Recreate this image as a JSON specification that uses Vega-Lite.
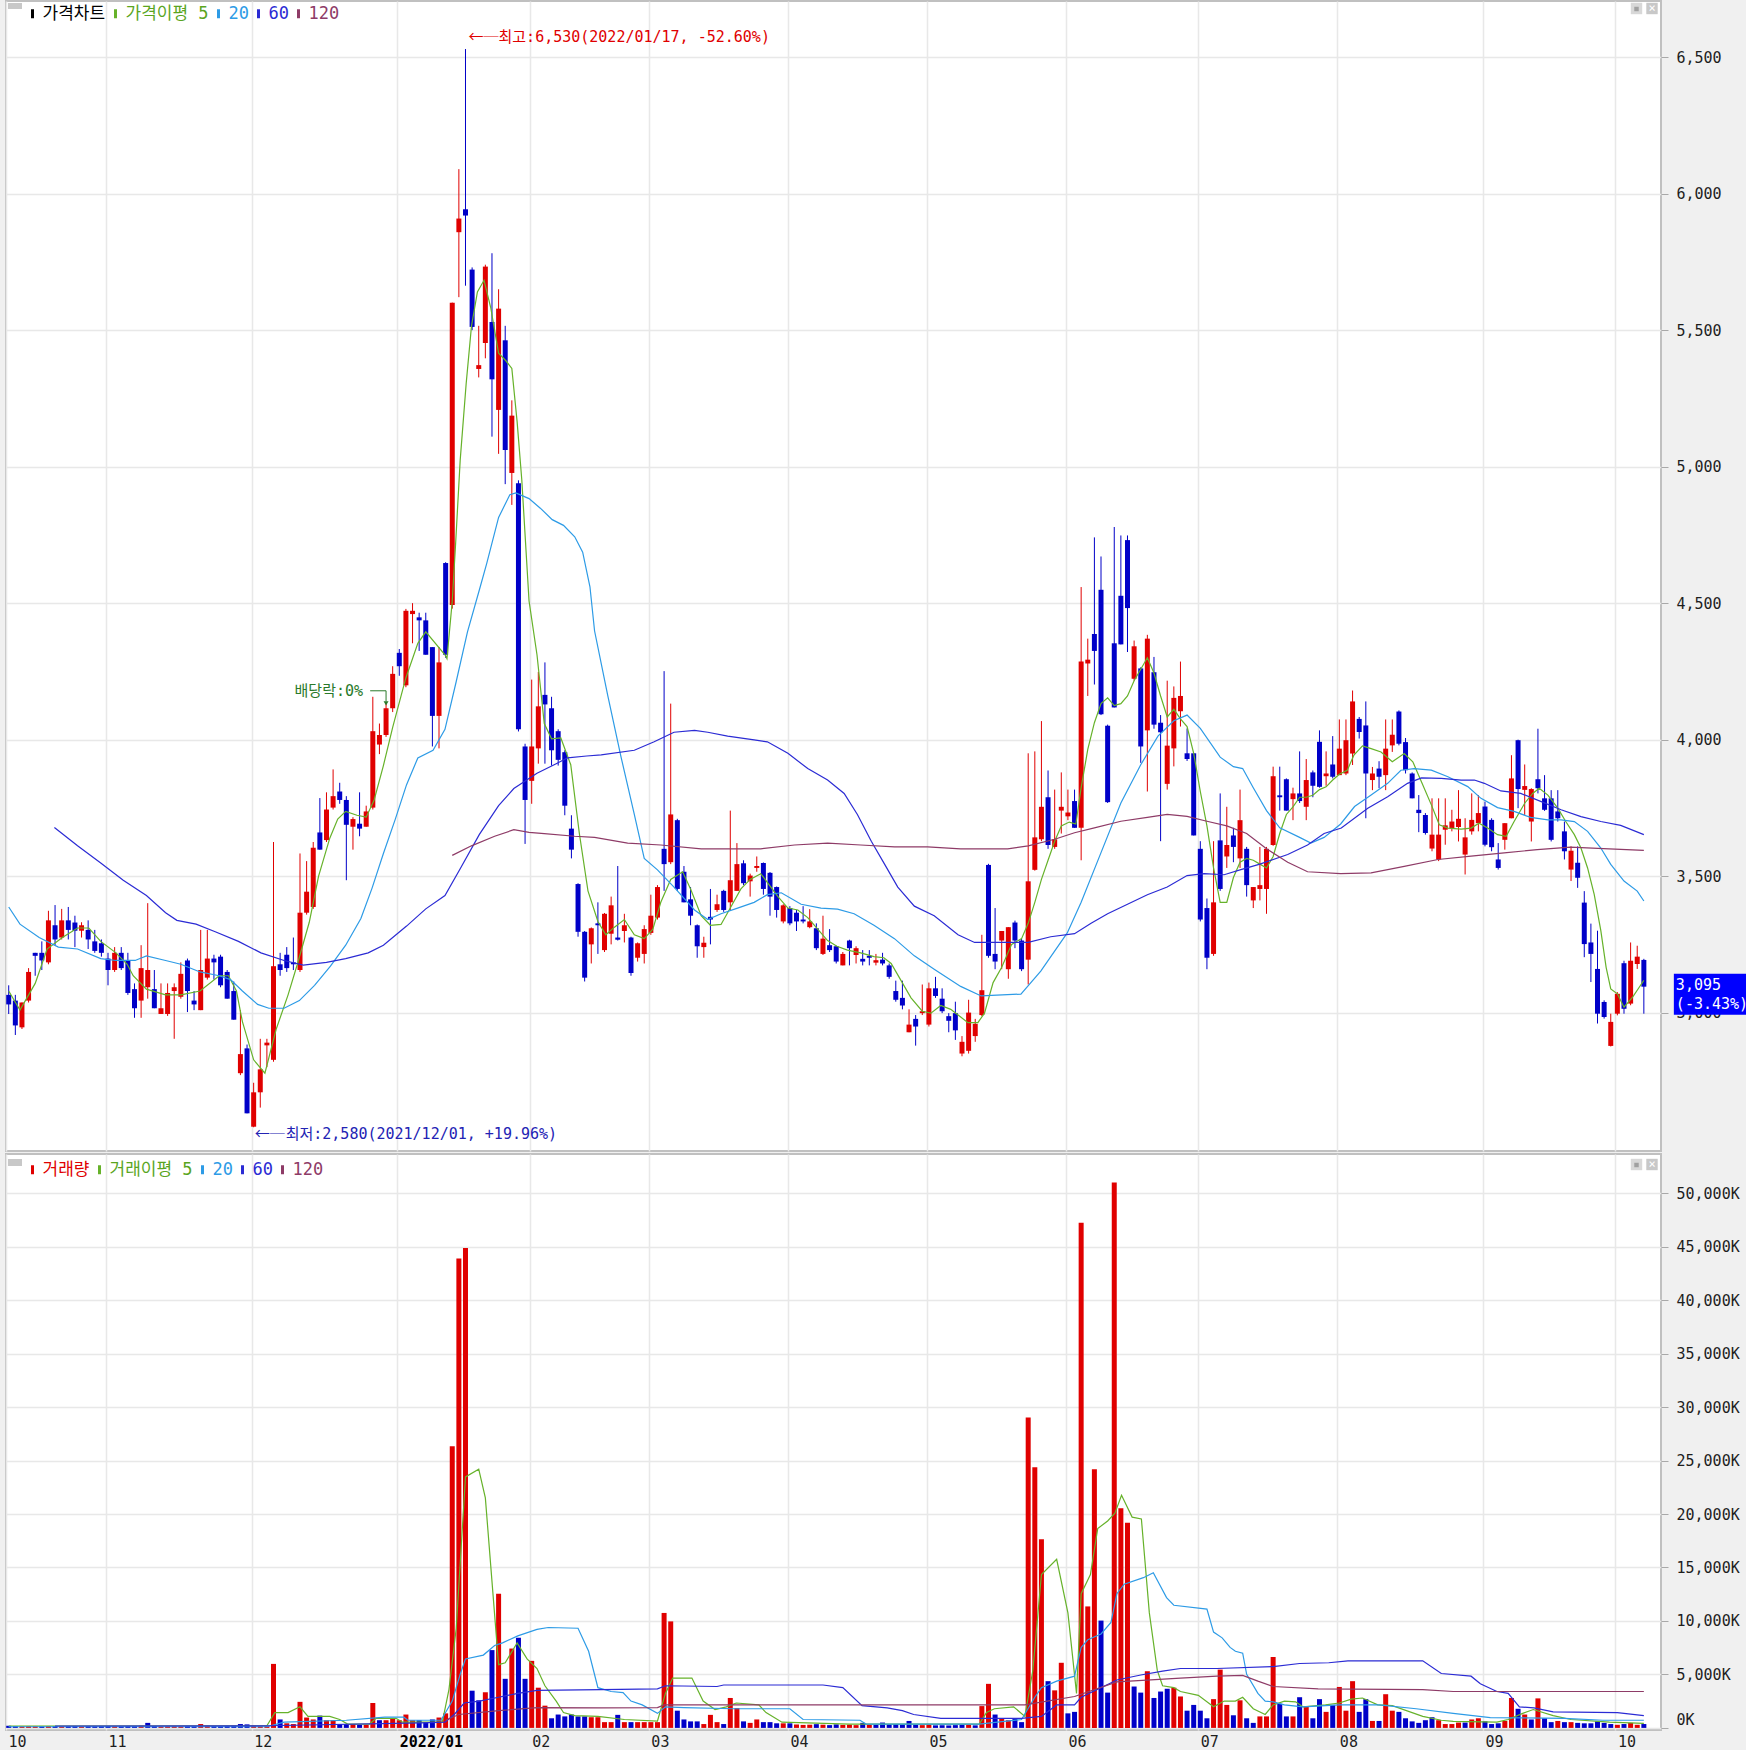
{
"$schema": "https://vega.github.io/schema/vega-lite/v6.json",
"background": "#f0f0f0",
"padding": {"left": 5, "top": 0, "right": 0, "bottom": 0},
"spacing": 1,
"config": {
  "view": {"fill": "white", "stroke": "#c0c0c0", "strokeWidth": 2},
  "axis": {"gridColor": "#e8e8e8", "gridWidth": 1.5, "labelFont": "DejaVu Sans Mono", "labelFontSize": 15, "labelColor": "#1e1e1e", "tickColor": "#a8a8a8", "domain": false, "title": null},
  "font": "DejaVu Sans Mono"
},
"resolve": {"scale": {"color": "independent"}, "legend": {"color": "independent"}},
"datasets": {
"c": [
{"i":-15,"o":3065,"h":3100,"l":2995,"c":3030,"v":200,"d":"d"},
{"i":-14,"o":3044,"h":3065,"l":2918,"c":2953,"v":180,"d":"d"},
{"i":-13,"o":2946,"h":3037,"l":2940,"c":3037,"v":150,"d":"u"},
{"i":-12,"o":3044,"h":3163,"l":3037,"c":3149,"v":170,"d":"u"},
{"i":-11,"o":3219,"h":3219,"l":3135,"c":3208,"v":160,"d":"u"},
{"i":-10,"o":3219,"h":3261,"l":3156,"c":3191,"v":150,"d":"d"},
{"i":-9,"o":3184,"h":3373,"l":3177,"c":3338,"v":180,"d":"u"},
{"i":-8,"o":3320,"h":3394,"l":3247,"c":3268,"v":170,"d":"d"},
{"i":-7,"o":3275,"h":3380,"l":3268,"c":3338,"v":160,"d":"u"},
{"i":-6,"o":3338,"h":3387,"l":3268,"c":3303,"v":150,"d":"d"},
{"i":-5,"o":3330,"h":3355,"l":3240,"c":3300,"v":170,"d":"d"},
{"i":-4,"o":3300,"h":3331,"l":3275,"c":3320,"v":150,"d":"u"},
{"i":-3,"o":3303,"h":3338,"l":3233,"c":3268,"v":160,"d":"d"},
{"i":-2,"o":3261,"h":3303,"l":3219,"c":3226,"v":150,"d":"d"},
{"i":-1,"o":3254,"h":3268,"l":3205,"c":3219,"v":170,"d":"d"},
{"i":0,"o":3198,"h":3219,"l":3100,"c":3156,"v":180,"d":"d"},
{"i":1,"o":3156,"h":3240,"l":3149,"c":3219,"v":160,"d":"u"},
{"i":2,"o":3219,"h":3240,"l":3156,"c":3163,"v":150,"d":"d"},
{"i":3,"o":3191,"h":3219,"l":3065,"c":3072,"v":170,"d":"d"},
{"i":4,"o":3086,"h":3107,"l":2981,"c":3016,"v":160,"d":"d"},
{"i":5,"o":3044,"h":3247,"l":2981,"c":3163,"v":200,"d":"u"},
{"i":6,"o":3093,"h":3401,"l":3051,"c":3156,"v":470,"d":"d"},
{"i":7,"o":3086,"h":3156,"l":3016,"c":3016,"v":180,"d":"d"},
{"i":8,"o":2995,"h":3107,"l":2995,"c":3016,"v":150,"d":"u"},
{"i":9,"o":2995,"h":3107,"l":2988,"c":3072,"v":160,"d":"u"},
{"i":10,"o":3079,"h":3107,"l":2904,"c":3093,"v":170,"d":"u"},
{"i":11,"o":3058,"h":3184,"l":3051,"c":3142,"v":160,"d":"u"},
{"i":12,"o":3191,"h":3198,"l":3002,"c":3079,"v":170,"d":"d"},
{"i":13,"o":3044,"h":3079,"l":3009,"c":3030,"v":150,"d":"d"},
{"i":14,"o":3009,"h":3303,"l":3009,"c":3156,"v":360,"d":"u"},
{"i":15,"o":3128,"h":3303,"l":3121,"c":3198,"v":200,"d":"u"},
{"i":16,"o":3198,"h":3212,"l":3121,"c":3184,"v":170,"d":"d"},
{"i":17,"o":3205,"h":3212,"l":3093,"c":3100,"v":160,"d":"d"},
{"i":18,"o":3149,"h":3156,"l":3051,"c":3051,"v":180,"d":"d"},
{"i":19,"o":3079,"h":3114,"l":2974,"c":2974,"v":200,"d":"d"},
{"i":20,"o":2778,"h":3009,"l":2771,"c":2848,"v":360,"d":"d"},
{"i":21,"o":2869,"h":2883,"l":2631,"c":2631,"v":330,"d":"d"},
{"i":22,"o":2582,"h":2743,"l":2580,"c":2708,"v":200,"d":"u"},
{"i":23,"o":2708,"h":2904,"l":2652,"c":2792,"v":180,"d":"u"},
{"i":24,"o":2880,"h":2904,"l":2800,"c":2890,"v":180,"d":"u"},
{"i":25,"o":2827,"h":3625,"l":2820,"c":3170,"v":5985,"d":"u"},
{"i":26,"o":3177,"h":3219,"l":3135,"c":3156,"v":790,"d":"d"},
{"i":27,"o":3212,"h":3240,"l":3149,"c":3163,"v":430,"d":"u"},
{"i":28,"o":3184,"h":3275,"l":3156,"c":3177,"v":360,"d":"u"},
{"i":29,"o":3156,"h":3583,"l":3149,"c":3366,"v":2437,"d":"u"},
{"i":30,"o":3366,"h":3555,"l":3359,"c":3443,"v":970,"d":"u"},
{"i":31,"o":3387,"h":3625,"l":3380,"c":3604,"v":790,"d":"u"},
{"i":32,"o":3660,"h":3786,"l":3597,"c":3597,"v":1150,"d":"d"},
{"i":33,"o":3632,"h":3807,"l":3625,"c":3744,"v":720,"d":"u"},
{"i":34,"o":3751,"h":3891,"l":3744,"c":3793,"v":720,"d":"u"},
{"i":35,"o":3810,"h":3842,"l":3765,"c":3779,"v":360,"d":"d"},
{"i":36,"o":3779,"h":3793,"l":3485,"c":3688,"v":360,"d":"d"},
{"i":37,"o":3681,"h":3716,"l":3597,"c":3709,"v":360,"d":"u"},
{"i":38,"o":3692,"h":3807,"l":3646,"c":3674,"v":290,"d":"d"},
{"i":39,"o":3681,"h":3758,"l":3681,"c":3737,"v":290,"d":"u"},
{"i":40,"o":3751,"h":4157,"l":3744,"c":4031,"v":2330,"d":"u"},
{"i":41,"o":3982,"h":4059,"l":3947,"c":4017,"v":720,"d":"d"},
{"i":42,"o":4017,"h":4136,"l":4010,"c":4115,"v":720,"d":"u"},
{"i":43,"o":4115,"h":4269,"l":4101,"c":4241,"v":900,"d":"u"},
{"i":44,"o":4318,"h":4332,"l":4234,"c":4269,"v":720,"d":"u"},
{"i":45,"o":4199,"h":4479,"l":4192,"c":4472,"v":1250,"d":"u"},
{"i":46,"o":4460,"h":4500,"l":4353,"c":4472,"v":720,"d":"u"},
{"i":47,"o":4448,"h":4465,"l":4325,"c":4437,"v":720,"d":"d"},
{"i":48,"o":4437,"h":4465,"l":4311,"c":4311,"v":540,"d":"d"},
{"i":49,"o":4339,"h":4339,"l":3975,"c":4087,"v":790,"d":"d"},
{"i":50,"o":4087,"h":4339,"l":3968,"c":4283,"v":970,"d":"u"},
{"i":51,"o":4647,"h":4650,"l":4300,"c":4311,"v":1360,"d":"u"},
{"i":52,"o":4493,"h":5601,"l":4480,"c":5601,"v":26340,"d":"u"},
{"i":53,"o":5859,"h":6090,"l":5621,"c":5909,"v":43900,"d":"u"},
{"i":54,"o":5943,"h":6530,"l":5663,"c":5920,"v":44870,"d":"u"},
{"i":55,"o":5722,"h":5730,"l":5500,"c":5512,"v":3480,"d":"d"},
{"i":56,"o":5358,"h":5516,"l":5327,"c":5372,"v":2580,"d":"d"},
{"i":57,"o":5453,"h":5740,"l":5397,"c":5733,"v":3333,"d":"u"},
{"i":58,"o":5530,"h":5782,"l":5110,"c":5320,"v":7275,"d":"d"},
{"i":59,"o":5208,"h":5650,"l":5047,"c":5579,"v":12540,"d":"u"},
{"i":60,"o":5463,"h":5516,"l":4936,"c":5061,"v":4590,"d":"d"},
{"i":61,"o":4977,"h":5243,"l":4860,"c":5187,"v":7420,"d":"u"},
{"i":62,"o":4939,"h":4950,"l":4030,"c":4038,"v":8420,"d":"d"},
{"i":63,"o":3975,"h":3985,"l":3618,"c":3779,"v":4590,"d":"d"},
{"i":64,"o":3849,"h":4220,"l":3765,"c":3975,"v":6270,"d":"u"},
{"i":65,"o":3968,"h":4248,"l":3912,"c":4122,"v":3760,"d":"u"},
{"i":66,"o":4164,"h":4283,"l":3912,"c":4129,"v":2080,"d":"u"},
{"i":67,"o":4115,"h":4157,"l":3905,"c":3961,"v":900,"d":"d"},
{"i":68,"o":4031,"h":4038,"l":3905,"c":3926,"v":1250,"d":"d"},
{"i":69,"o":3954,"h":3961,"l":3723,"c":3758,"v":1075,"d":"d"},
{"i":70,"o":3674,"h":3723,"l":3565,"c":3597,"v":1250,"d":"d"},
{"i":71,"o":3471,"h":3474,"l":3278,"c":3296,"v":1075,"d":"d"},
{"i":72,"o":3296,"h":3299,"l":3114,"c":3128,"v":1075,"d":"d"},
{"i":73,"o":3250,"h":3312,"l":3180,"c":3309,"v":1000,"d":"u"},
{"i":74,"o":3327,"h":3404,"l":3215,"c":3320,"v":1000,"d":"u"},
{"i":75,"o":3229,"h":3365,"l":3222,"c":3362,"v":540,"d":"u"},
{"i":76,"o":3289,"h":3425,"l":3250,"c":3393,"v":540,"d":"u"},
{"i":77,"o":3275,"h":3537,"l":3264,"c":3267,"v":1220,"d":"d"},
{"i":78,"o":3299,"h":3362,"l":3257,"c":3320,"v":540,"d":"u"},
{"i":79,"o":3275,"h":3278,"l":3135,"c":3145,"v":540,"d":"d"},
{"i":80,"o":3201,"h":3257,"l":3187,"c":3254,"v":540,"d":"u"},
{"i":81,"o":3215,"h":3320,"l":3180,"c":3306,"v":540,"d":"u"},
{"i":82,"o":3292,"h":3432,"l":3285,"c":3355,"v":540,"d":"u"},
{"i":83,"o":3348,"h":3467,"l":3341,"c":3460,"v":540,"d":"u"},
{"i":84,"o":3600,"h":4251,"l":3446,"c":3544,"v":10750,"d":"u"},
{"i":85,"o":3551,"h":4132,"l":3544,"c":3726,"v":9960,"d":"u"},
{"i":86,"o":3705,"h":3710,"l":3446,"c":3453,"v":1610,"d":"d"},
{"i":87,"o":3516,"h":3537,"l":3404,"c":3404,"v":790,"d":"d"},
{"i":88,"o":3415,"h":3460,"l":3320,"c":3355,"v":610,"d":"d"},
{"i":89,"o":3320,"h":3323,"l":3201,"c":3243,"v":610,"d":"d"},
{"i":90,"o":3240,"h":3278,"l":3201,"c":3256,"v":360,"d":"u"},
{"i":91,"o":3351,"h":3453,"l":3250,"c":3341,"v":1220,"d":"u"},
{"i":92,"o":3376,"h":3432,"l":3369,"c":3397,"v":540,"d":"u"},
{"i":93,"o":3446,"h":3450,"l":3369,"c":3376,"v":360,"d":"d"},
{"i":94,"o":3404,"h":3740,"l":3376,"c":3485,"v":2800,"d":"u"},
{"i":95,"o":3446,"h":3621,"l":3446,"c":3544,"v":1860,"d":"u"},
{"i":96,"o":3547,"h":3558,"l":3467,"c":3474,"v":610,"d":"d"},
{"i":97,"o":3481,"h":3509,"l":3425,"c":3502,"v":470,"d":"u"},
{"i":98,"o":3530,"h":3572,"l":3516,"c":3537,"v":790,"d":"u"},
{"i":99,"o":3548,"h":3550,"l":3432,"c":3453,"v":540,"d":"d"},
{"i":100,"o":3512,"h":3515,"l":3355,"c":3425,"v":540,"d":"d"},
{"i":101,"o":3460,"h":3462,"l":3348,"c":3376,"v":430,"d":"d"},
{"i":102,"o":3334,"h":3397,"l":3327,"c":3393,"v":430,"d":"u"},
{"i":103,"o":3383,"h":3390,"l":3320,"c":3327,"v":430,"d":"d"},
{"i":104,"o":3366,"h":3376,"l":3299,"c":3334,"v":320,"d":"u"},
{"i":105,"o":3341,"h":3390,"l":3327,"c":3334,"v":280,"d":"u"},
{"i":106,"o":3313,"h":3379,"l":3309,"c":3334,"v":300,"d":"u"},
{"i":107,"o":3309,"h":3327,"l":3229,"c":3236,"v":350,"d":"d"},
{"i":108,"o":3215,"h":3355,"l":3211,"c":3271,"v":300,"d":"u"},
{"i":109,"o":3247,"h":3306,"l":3222,"c":3229,"v":260,"d":"d"},
{"i":110,"o":3243,"h":3245,"l":3180,"c":3187,"v":330,"d":"d"},
{"i":111,"o":3173,"h":3222,"l":3173,"c":3215,"v":280,"d":"u"},
{"i":112,"o":3264,"h":3267,"l":3173,"c":3236,"v":300,"d":"u"},
{"i":113,"o":3211,"h":3243,"l":3180,"c":3236,"v":260,"d":"u"},
{"i":114,"o":3197,"h":3229,"l":3173,"c":3187,"v":470,"d":"d"},
{"i":115,"o":3208,"h":3229,"l":3173,"c":3201,"v":290,"d":"u"},
{"i":116,"o":3183,"h":3215,"l":3173,"c":3192,"v":270,"d":"d"},
{"i":117,"o":3194,"h":3219,"l":3173,"c":3180,"v":500,"d":"d"},
{"i":118,"o":3173,"h":3180,"l":3124,"c":3131,"v":330,"d":"d"},
{"i":119,"o":3079,"h":3117,"l":3040,"c":3047,"v":360,"d":"d"},
{"i":120,"o":3054,"h":3117,"l":3012,"c":3026,"v":300,"d":"d"},
{"i":121,"o":2928,"h":3012,"l":2928,"c":2956,"v":650,"d":"d"},
{"i":122,"o":2977,"h":2991,"l":2879,"c":2949,"v":280,"d":"d"},
{"i":123,"o":2998,"h":3103,"l":2991,"c":3005,"v":260,"d":"u"},
{"i":124,"o":2956,"h":3110,"l":2949,"c":3089,"v":300,"d":"u"},
{"i":125,"o":3089,"h":3131,"l":3054,"c":3061,"v":240,"d":"d"},
{"i":126,"o":3051,"h":3089,"l":2998,"c":3005,"v":250,"d":"d"},
{"i":127,"o":2987,"h":2998,"l":2928,"c":2970,"v":230,"d":"d"},
{"i":128,"o":2998,"h":3040,"l":2900,"c":2935,"v":260,"d":"d"},
{"i":129,"o":2850,"h":2914,"l":2840,"c":2893,"v":280,"d":"d"},
{"i":130,"o":2860,"h":3047,"l":2850,"c":3000,"v":300,"d":"u"},
{"i":131,"o":2914,"h":2977,"l":2893,"c":2959,"v":240,"d":"d"},
{"i":132,"o":2991,"h":3285,"l":2987,"c":3082,"v":2040,"d":"u"},
{"i":133,"o":3541,"h":3545,"l":3201,"c":3208,"v":4120,"d":"u"},
{"i":134,"o":3215,"h":3383,"l":3159,"c":3187,"v":1250,"d":"d"},
{"i":135,"o":3264,"h":3299,"l":3159,"c":3299,"v":900,"d":"u"},
{"i":136,"o":3159,"h":3313,"l":3124,"c":3313,"v":720,"d":"u"},
{"i":137,"o":3330,"h":3337,"l":3236,"c":3264,"v":900,"d":"d"},
{"i":138,"o":3264,"h":3271,"l":3152,"c":3159,"v":540,"d":"d"},
{"i":139,"o":3194,"h":3950,"l":3103,"c":3481,"v":29030,"d":"u"},
{"i":140,"o":3523,"h":3957,"l":3520,"c":3642,"v":24370,"d":"u"},
{"i":141,"o":3635,"h":4068,"l":3628,"c":3754,"v":17630,"d":"u"},
{"i":142,"o":3789,"h":3887,"l":3600,"c":3614,"v":4370,"d":"d"},
{"i":143,"o":3607,"h":3817,"l":3600,"c":3635,"v":3510,"d":"u"},
{"i":144,"o":3740,"h":3880,"l":3656,"c":3754,"v":6090,"d":"u"},
{"i":145,"o":3719,"h":3817,"l":3705,"c":3733,"v":1360,"d":"d"},
{"i":146,"o":3775,"h":3817,"l":3677,"c":3677,"v":1500,"d":"d"},
{"i":147,"o":3677,"h":4559,"l":3558,"c":4286,"v":47240,"d":"u"},
{"i":148,"o":4279,"h":4370,"l":4160,"c":4293,"v":11360,"d":"u"},
{"i":149,"o":4387,"h":4741,"l":4202,"c":4325,"v":24190,"d":"u"},
{"i":150,"o":4549,"h":4671,"l":4090,"c":4093,"v":10035,"d":"d"},
{"i":151,"o":4051,"h":4055,"l":3768,"c":3771,"v":3300,"d":"d"},
{"i":152,"o":4353,"h":4779,"l":4118,"c":4118,"v":51000,"d":"u"},
{"i":153,"o":4527,"h":4748,"l":4349,"c":4349,"v":20540,"d":"u"},
{"i":154,"o":4731,"h":4748,"l":4321,"c":4482,"v":19175,"d":"u"},
{"i":155,"o":4223,"h":4363,"l":4216,"c":4342,"v":3870,"d":"d"},
{"i":156,"o":4261,"h":4265,"l":3915,"c":3975,"v":3300,"d":"d"},
{"i":157,"o":4034,"h":4384,"l":3810,"c":4370,"v":5300,"d":"u"},
{"i":158,"o":4247,"h":4303,"l":4040,"c":4055,"v":2800,"d":"d"},
{"i":159,"o":4062,"h":4090,"l":3628,"c":4027,"v":3400,"d":"d"},
{"i":160,"o":3838,"h":4216,"l":3817,"c":3978,"v":3660,"d":"d"},
{"i":161,"o":3968,"h":4195,"l":3902,"c":4153,"v":3760,"d":"u"},
{"i":162,"o":4104,"h":4286,"l":4048,"c":4160,"v":2940,"d":"u"},
{"i":163,"o":3950,"h":4041,"l":3922,"c":3929,"v":1610,"d":"d"},
{"i":164,"o":3950,"h":3950,"l":3649,"c":3649,"v":2150,"d":"d"},
{"i":165,"o":3600,"h":3628,"l":3334,"c":3341,"v":1610,"d":"d"},
{"i":166,"o":3383,"h":3418,"l":3159,"c":3201,"v":900,"d":"d"},
{"i":167,"o":3215,"h":3628,"l":3208,"c":3404,"v":2690,"d":"u"},
{"i":168,"o":3631,"h":3803,"l":3446,"c":3453,"v":5450,"d":"u"},
{"i":169,"o":3572,"h":3754,"l":3530,"c":3614,"v":2150,"d":"u"},
{"i":170,"o":3649,"h":3677,"l":3551,"c":3607,"v":1180,"d":"d"},
{"i":171,"o":3565,"h":3817,"l":3530,"c":3705,"v":2580,"d":"u"},
{"i":172,"o":3600,"h":3607,"l":3425,"c":3467,"v":900,"d":"d"},
{"i":173,"o":3411,"h":3460,"l":3383,"c":3460,"v":470,"d":"d"},
{"i":174,"o":3453,"h":3607,"l":3411,"c":3467,"v":1075,"d":"u"},
{"i":175,"o":3453,"h":3607,"l":3362,"c":3600,"v":1075,"d":"u"},
{"i":176,"o":3614,"h":3901,"l":3611,"c":3866,"v":6630,"d":"u"},
{"i":177,"o":3796,"h":3901,"l":3740,"c":3789,"v":2260,"d":"d"},
{"i":178,"o":3855,"h":3858,"l":3740,"c":3740,"v":1075,"d":"d"},
{"i":179,"o":3782,"h":3824,"l":3705,"c":3803,"v":1075,"d":"u"},
{"i":180,"o":3803,"h":3957,"l":3768,"c":3775,"v":2870,"d":"d"},
{"i":181,"o":3754,"h":3929,"l":3705,"c":3852,"v":1970,"d":"u"},
{"i":182,"o":3880,"h":3887,"l":3789,"c":3831,"v":900,"d":"d"},
{"i":183,"o":3992,"h":4034,"l":3824,"c":3827,"v":2690,"d":"d"},
{"i":184,"o":3866,"h":3957,"l":3831,"c":3876,"v":1500,"d":"u"},
{"i":185,"o":3909,"h":4013,"l":3858,"c":3864,"v":2150,"d":"d"},
{"i":186,"o":3870,"h":4074,"l":3870,"c":3967,"v":3830,"d":"u"},
{"i":187,"o":3876,"h":4074,"l":3870,"c":3998,"v":1610,"d":"u"},
{"i":188,"o":3949,"h":4180,"l":3907,"c":4140,"v":4370,"d":"u"},
{"i":189,"o":4076,"h":4083,"l":4004,"c":4028,"v":1500,"d":"d"},
{"i":190,"o":4052,"h":4140,"l":3712,"c":3876,"v":2690,"d":"d"},
{"i":191,"o":3852,"h":3900,"l":3815,"c":3876,"v":650,"d":"u"},
{"i":192,"o":3894,"h":3921,"l":3822,"c":3864,"v":650,"d":"d"},
{"i":193,"o":3870,"h":4074,"l":3815,"c":3967,"v":3150,"d":"u"},
{"i":194,"o":3979,"h":4074,"l":3955,"c":4018,"v":1610,"d":"u"},
{"i":195,"o":4103,"h":4107,"l":3979,"c":3985,"v":1500,"d":"d"},
{"i":196,"o":3991,"h":4006,"l":3876,"c":3888,"v":900,"d":"d"},
{"i":197,"o":3876,"h":3880,"l":3785,"c":3785,"v":610,"d":"d"},
{"i":198,"o":3743,"h":3797,"l":3661,"c":3731,"v":470,"d":"d"},
{"i":199,"o":3724,"h":3731,"l":3652,"c":3658,"v":720,"d":"d"},
{"i":200,"o":3601,"h":3785,"l":3591,"c":3652,"v":1000,"d":"d"},
{"i":201,"o":3561,"h":3785,"l":3555,"c":3652,"v":720,"d":"u"},
{"i":202,"o":3670,"h":3785,"l":3615,"c":3686,"v":360,"d":"u"},
{"i":203,"o":3676,"h":3743,"l":3664,"c":3700,"v":360,"d":"u"},
{"i":204,"o":3680,"h":3815,"l":3627,"c":3710,"v":500,"d":"u"},
{"i":205,"o":3579,"h":3712,"l":3506,"c":3642,"v":500,"d":"d"},
{"i":206,"o":3664,"h":3803,"l":3652,"c":3706,"v":790,"d":"u"},
{"i":207,"o":3694,"h":3797,"l":3664,"c":3731,"v":900,"d":"u"},
{"i":208,"o":3755,"h":3773,"l":3609,"c":3615,"v":610,"d":"d"},
{"i":209,"o":3706,"h":3712,"l":3591,"c":3606,"v":360,"d":"d"},
{"i":210,"o":3561,"h":3621,"l":3524,"c":3530,"v":430,"d":"d"},
{"i":211,"o":3633,"h":3694,"l":3597,"c":3694,"v":650,"d":"u"},
{"i":212,"o":3712,"h":3943,"l":3712,"c":3858,"v":2800,"d":"u"},
{"i":213,"o":3998,"h":4000,"l":3749,"c":3819,"v":1790,"d":"d"},
{"i":214,"o":3816,"h":3909,"l":3724,"c":3830,"v":1250,"d":"u"},
{"i":215,"o":3700,"h":3822,"l":3627,"c":3819,"v":790,"d":"d"},
{"i":216,"o":3855,"h":4040,"l":3803,"c":3822,"v":2760,"d":"u"},
{"i":217,"o":3785,"h":3870,"l":3739,"c":3743,"v":900,"d":"d"},
{"i":218,"o":3785,"h":3815,"l":3627,"c":3633,"v":540,"d":"d"},
{"i":219,"o":3737,"h":3815,"l":3700,"c":3712,"v":650,"d":"u"},
{"i":220,"o":3664,"h":3700,"l":3561,"c":3591,"v":540,"d":"d"},
{"i":221,"o":3524,"h":3609,"l":3482,"c":3593,"v":540,"d":"u"},
{"i":222,"o":3549,"h":3609,"l":3457,"c":3494,"v":470,"d":"d"},
{"i":223,"o":3403,"h":3445,"l":3203,"c":3251,"v":430,"d":"d"},
{"i":224,"o":3257,"h":3326,"l":3112,"c":3215,"v":430,"d":"d"},
{"i":225,"o":3160,"h":3300,"l":2960,"c":2996,"v":610,"d":"d"},
{"i":226,"o":3039,"h":3045,"l":2978,"c":2984,"v":470,"d":"d"},
{"i":227,"o":2878,"h":2996,"l":2876,"c":2966,"v":360,"d":"d"},
{"i":228,"o":2996,"h":3075,"l":2990,"c":3069,"v":290,"d":"u"},
{"i":229,"o":3181,"h":3190,"l":2996,"c":3014,"v":360,"d":"d"},
{"i":230,"o":3033,"h":3257,"l":3027,"c":3190,"v":470,"d":"u"},
{"i":231,"o":3178,"h":3245,"l":3160,"c":3205,"v":290,"d":"u"},
{"i":232,"o":3193,"h":3197,"l":2996,"c":3095,"v":360,"d":"d"}
],
"ma": [
{"s":"가격이평 5","i":-15,"v":3079},{"s":"가격이평 5","i":-13.3,"v":3009},{"s":"가격이평 5","i":-11,"v":3107},{"s":"가격이평 5","i":-9.2,"v":3233},{"s":"가격이평 5","i":-6.9,"v":3275},{"s":"가격이평 5","i":-4.6,"v":3310},{"s":"가격이평 5","i":-2.9,"v":3310},{"s":"가격이평 5","i":-1.1,"v":3261},{"s":"가격이평 5","i":1.2,"v":3219},{"s":"가격이평 5","i":2.9,"v":3177},{"s":"가격이평 5","i":3.8,"v":3135},{"s":"가격이평 5","i":5.8,"v":3086},{"s":"가격이평 5","i":8.7,"v":3065},{"s":"가격이평 5","i":11,"v":3065},{"s":"가격이평 5","i":13.9,"v":3079},{"s":"가격이평 5","i":16.8,"v":3135},{"s":"가격이평 5","i":18.2,"v":3135},{"s":"가격이평 5","i":19.4,"v":3079},{"s":"가격이평 5","i":20.3,"v":2967},{"s":"가격이평 5","i":22,"v":2827},{"s":"가격이평 5","i":23.7,"v":2778},{"s":"가격이평 5","i":25.4,"v":2939},{"s":"가격이평 5","i":27.2,"v":3065},{"s":"가격이평 5","i":28.6,"v":3177},{"s":"가격이평 5","i":30.4,"v":3331},{"s":"가격이평 5","i":31.8,"v":3499},{"s":"가격이평 5","i":33.5,"v":3639},{"s":"가격이평 5","i":34.7,"v":3709},{"s":"가격이평 5","i":35.9,"v":3737},{"s":"가격이평 5","i":37.6,"v":3723},{"s":"가격이평 5","i":39,"v":3716},{"s":"가격이평 5","i":40.2,"v":3779},{"s":"가격이평 5","i":41.6,"v":3905},{"s":"가격이평 5","i":43,"v":4045},{"s":"가격이평 5","i":45,"v":4227},{"s":"가격이평 5","i":46.8,"v":4353},{"s":"가격이평 5","i":48,"v":4395},{"s":"가격이평 5","i":50.9,"v":4311},{"s":"가격이평 5","i":51.2,"v":4297},{"s":"가격이평 5","i":52,"v":4508},{"s":"가격이평 5","i":52.5,"v":4715},{"s":"가격이평 5","i":53.2,"v":5024},{"s":"가격이평 5","i":54.1,"v":5304},{"s":"가격이평 5","i":54.9,"v":5514},{"s":"가격이평 5","i":55.8,"v":5640},{"s":"가격이평 5","i":56.8,"v":5683},{"s":"가격이평 5","i":57.8,"v":5584},{"s":"가격이평 5","i":59,"v":5416},{"s":"가격이평 5","i":60.1,"v":5388},{"s":"가격이평 5","i":61,"v":5360},{"s":"가격이평 5","i":61.8,"v":5164},{"s":"가격이평 5","i":62.5,"v":4953},{"s":"가격이평 5","i":63.6,"v":4508},{"s":"가격이평 5","i":64.8,"v":4311},{"s":"가격이평 5","i":65.9,"v":4059},{"s":"가격이평 5","i":67,"v":4003},{"s":"가격이평 5","i":68.4,"v":4006},{"s":"가격이평 5","i":69.9,"v":3908},{"s":"가격이평 5","i":71.2,"v":3656},{"s":"가격이평 5","i":72.5,"v":3446},{"s":"가격이평 5","i":74,"v":3334},{"s":"가격이평 5","i":75.2,"v":3285},{"s":"가격이평 5","i":76.5,"v":3313},{"s":"가격이평 5","i":78,"v":3341},{"s":"가격이평 5","i":79.5,"v":3285},{"s":"가격이평 5","i":81,"v":3271},{"s":"가격이평 5","i":82.3,"v":3306},{"s":"가격이평 5","i":83.5,"v":3404},{"s":"가격이평 5","i":85,"v":3488},{"s":"가격이평 5","i":86.8,"v":3516},{"s":"가격이평 5","i":88,"v":3453},{"s":"가격이평 5","i":89.6,"v":3355},{"s":"가격이평 5","i":91,"v":3320},{"s":"가격이평 5","i":92.6,"v":3323},{"s":"가격이평 5","i":94,"v":3383},{"s":"가격이평 5","i":95.6,"v":3453},{"s":"가격이평 5","i":97,"v":3488},{"s":"가격이평 5","i":98.6,"v":3509},{"s":"가격이평 5","i":99.9,"v":3467},{"s":"가격이평 5","i":101.2,"v":3425},{"s":"가격이평 5","i":102.7,"v":3383},{"s":"가격이평 5","i":104.2,"v":3376},{"s":"가격이평 5","i":105.7,"v":3348},{"s":"가격이평 5","i":107.2,"v":3306},{"s":"가격이평 5","i":108.7,"v":3264},{"s":"가격이평 5","i":110.1,"v":3243},{"s":"가격이평 5","i":111.7,"v":3229},{"s":"가격이평 5","i":113.7,"v":3219},{"s":"가격이평 5","i":115.7,"v":3205},{"s":"가격이평 5","i":117.2,"v":3201},{"s":"가격이평 5","i":118.3,"v":3180},{"s":"가격이평 5","i":119.8,"v":3117},{"s":"가격이평 5","i":121.3,"v":3054},{"s":"가격이평 5","i":123,"v":3005},{"s":"가격이평 5","i":124.3,"v":2998},{"s":"가격이평 5","i":125.8,"v":3026},{"s":"가격이평 5","i":127.3,"v":3012},{"s":"가격이평 5","i":128.8,"v":2984},{"s":"가격이평 5","i":129.9,"v":2963},{"s":"가격이평 5","i":131.4,"v":2963},{"s":"가격이평 5","i":132.4,"v":2998},{"s":"가격이평 5","i":133.7,"v":3110},{"s":"가격이평 5","i":135,"v":3166},{"s":"가격이평 5","i":136.5,"v":3250},{"s":"가격이평 5","i":138,"v":3271},{"s":"가격이평 5","i":139,"v":3327},{"s":"가격이평 5","i":140,"v":3404},{"s":"가격이평 5","i":141,"v":3488},{"s":"가격이평 5","i":142,"v":3558},{"s":"가격이평 5","i":143,"v":3628},{"s":"가격이평 5","i":144,"v":3684},{"s":"가격이평 5","i":145.2,"v":3698},{"s":"가격이평 5","i":146.2,"v":3691},{"s":"가격이평 5","i":147,"v":3824},{"s":"가격이평 5","i":148,"v":3964},{"s":"가격이평 5","i":149,"v":4062},{"s":"가격이평 5","i":150,"v":4132},{"s":"가격이평 5","i":151,"v":4153},{"s":"가격이평 5","i":152,"v":4125},{"s":"가격이평 5","i":153,"v":4132},{"s":"가격이평 5","i":154,"v":4160},{"s":"가격이평 5","i":155,"v":4216},{"s":"가격이평 5","i":156,"v":4258},{"s":"가격이평 5","i":157,"v":4300},{"s":"가격이평 5","i":158,"v":4244},{"s":"가격이평 5","i":159,"v":4160},{"s":"가격이평 5","i":160,"v":4083},{"s":"가격이평 5","i":161,"v":4111},{"s":"가격이평 5","i":162,"v":4076},{"s":"가격이평 5","i":163,"v":4048},{"s":"가격이평 5","i":164,"v":3950},{"s":"가격이평 5","i":165,"v":3810},{"s":"가격이평 5","i":166,"v":3684},{"s":"가격이평 5","i":167,"v":3530},{"s":"가격이평 5","i":168,"v":3404},{"s":"가격이평 5","i":169,"v":3404},{"s":"가격이평 5","i":170,"v":3495},{"s":"가격이평 5","i":171,"v":3551},{"s":"가격이평 5","i":172,"v":3565},{"s":"가격이평 5","i":173,"v":3558},{"s":"가격이평 5","i":174,"v":3544},{"s":"가격이평 5","i":175,"v":3530},{"s":"가격이평 5","i":176,"v":3572},{"s":"가격이평 5","i":177,"v":3656},{"s":"가격이평 5","i":178,"v":3726},{"s":"가격이평 5","i":179,"v":3754},{"s":"가격이평 5","i":180,"v":3789},{"s":"가격이평 5","i":181,"v":3789},{"s":"가격이평 5","i":182,"v":3796},{"s":"가격이평 5","i":183,"v":3817},{"s":"가격이평 5","i":184,"v":3827},{"s":"가격이평 5","i":185,"v":3852},{"s":"가격이평 5","i":186,"v":3873},{"s":"가격이평 5","i":187.2,"v":3888},{"s":"가격이평 5","i":188.2,"v":3943},{"s":"가격이평 5","i":189.5,"v":3977},{"s":"가격이평 5","i":190.8,"v":3967},{"s":"가격이평 5","i":192.3,"v":3955},{"s":"가격이평 5","i":194,"v":3919},{"s":"가격이평 5","i":195.8,"v":3949},{"s":"가격이평 5","i":197.1,"v":3919},{"s":"가격이평 5","i":198.4,"v":3846},{"s":"가격이평 5","i":199.9,"v":3761},{"s":"가격이평 5","i":201.1,"v":3688},{"s":"가격이평 5","i":202.4,"v":3676},{"s":"가격이평 5","i":204.4,"v":3672},{"s":"가격이평 5","i":205.9,"v":3676},{"s":"가격이평 5","i":207.1,"v":3694},{"s":"가격이평 5","i":208.4,"v":3676},{"s":"가격이평 5","i":209.9,"v":3652},{"s":"가격이평 5","i":211.2,"v":3646},{"s":"가격이평 5","i":212.4,"v":3700},{"s":"가격이평 5","i":214,"v":3767},{"s":"가격이평 5","i":215.2,"v":3803},{"s":"가격이평 5","i":216.2,"v":3822},{"s":"가격이평 5","i":217.5,"v":3797},{"s":"가격이평 5","i":219,"v":3749},{"s":"가격이평 5","i":220.2,"v":3700},{"s":"가격이평 5","i":221.5,"v":3652},{"s":"가격이평 5","i":222.5,"v":3603},{"s":"가격이평 5","i":223.5,"v":3530},{"s":"가격이평 5","i":224.5,"v":3433},{"s":"가격이평 5","i":225.5,"v":3300},{"s":"가격이평 5","i":226.3,"v":3166},{"s":"가격이평 5","i":227,"v":3087},{"s":"가격이평 5","i":228,"v":3069},{"s":"가격이평 5","i":229,"v":3020},{"s":"가격이평 5","i":230.3,"v":3057},{"s":"가격이평 5","i":231.3,"v":3093},{"s":"가격이평 5","i":232,"v":3118},
{"s":"20","i":-15,"v":3387},{"s":"20","i":-13.3,"v":3324},{"s":"20","i":-10.4,"v":3275},{"s":"20","i":-7.5,"v":3240},{"s":"20","i":-4.6,"v":3233},{"s":"20","i":-1.1,"v":3198},{"s":"20","i":1.2,"v":3191},{"s":"20","i":4.1,"v":3191},{"s":"20","i":5.8,"v":3208},{"s":"20","i":8.7,"v":3191},{"s":"20","i":11,"v":3177},{"s":"20","i":13.9,"v":3149},{"s":"20","i":16.8,"v":3135},{"s":"20","i":18.5,"v":3121},{"s":"20","i":20.3,"v":3079},{"s":"20","i":22.6,"v":3030},{"s":"20","i":24.3,"v":3016},{"s":"20","i":26.6,"v":3016},{"s":"20","i":28.9,"v":3044},{"s":"20","i":31.2,"v":3100},{"s":"20","i":33.6,"v":3170},{"s":"20","i":35.9,"v":3247},{"s":"20","i":38.2,"v":3345},{"s":"20","i":39.9,"v":3457},{"s":"20","i":41.6,"v":3583},{"s":"20","i":43.4,"v":3709},{"s":"20","i":45.1,"v":3835},{"s":"20","i":46.8,"v":3933},{"s":"20","i":49.1,"v":3961},{"s":"20","i":50.9,"v":4038},{"s":"20","i":52.6,"v":4213},{"s":"20","i":54.3,"v":4395},{"s":"20","i":56.1,"v":4549},{"s":"20","i":57.2,"v":4645},{"s":"20","i":59,"v":4814},{"s":"20","i":60.7,"v":4897},{"s":"20","i":61.6,"v":4904},{"s":"20","i":63.6,"v":4883},{"s":"20","i":65.3,"v":4848},{"s":"20","i":67.1,"v":4806},{"s":"20","i":68.8,"v":4785},{"s":"20","i":70.5,"v":4743},{"s":"20","i":71.7,"v":4687},{"s":"20","i":72.8,"v":4560},{"s":"20","i":73.5,"v":4398},{"s":"20","i":75.5,"v":4160},{"s":"20","i":77.5,"v":3936},{"s":"20","i":79.5,"v":3726},{"s":"20","i":81,"v":3565},{"s":"20","i":83,"v":3523},{"s":"20","i":85.5,"v":3460},{"s":"20","i":88.6,"v":3376},{"s":"20","i":90.6,"v":3341},{"s":"20","i":92.6,"v":3362},{"s":"20","i":95.1,"v":3383},{"s":"20","i":97.6,"v":3404},{"s":"20","i":99.6,"v":3432},{"s":"20","i":101.7,"v":3439},{"s":"20","i":104.7,"v":3397},{"s":"20","i":107.7,"v":3383},{"s":"20","i":110.2,"v":3379},{"s":"20","i":112.7,"v":3362},{"s":"20","i":115.7,"v":3320},{"s":"20","i":118.8,"v":3271},{"s":"20","i":121.8,"v":3208},{"s":"20","i":124.8,"v":3159},{"s":"20","i":128.8,"v":3096},{"s":"20","i":131.9,"v":3061},{"s":"20","i":137.9,"v":3068},{"s":"20","i":140.9,"v":3152},{"s":"20","i":144.9,"v":3292},{"s":"20","i":147,"v":3404},{"s":"20","i":150,"v":3586},{"s":"20","i":153,"v":3768},{"s":"20","i":156,"v":3908},{"s":"20","i":158.6,"v":4013},{"s":"20","i":161,"v":4069},{"s":"20","i":163,"v":4090},{"s":"20","i":165,"v":4041},{"s":"20","i":168,"v":3936},{"s":"20","i":170,"v":3901},{"s":"20","i":171.4,"v":3894},{"s":"20","i":173,"v":3824},{"s":"20","i":175,"v":3740},{"s":"20","i":177,"v":3677},{"s":"20","i":180,"v":3642},{"s":"20","i":181.7,"v":3621},{"s":"20","i":183.7,"v":3642},{"s":"20","i":186.2,"v":3691},{"s":"20","i":188.3,"v":3755},{"s":"20","i":190.8,"v":3797},{"s":"20","i":193.3,"v":3840},{"s":"20","i":195.3,"v":3888},{"s":"20","i":197.3,"v":3894},{"s":"20","i":199.9,"v":3888},{"s":"20","i":202.4,"v":3864},{"s":"20","i":205.4,"v":3828},{"s":"20","i":207.4,"v":3785},{"s":"20","i":209.9,"v":3751},{"s":"20","i":212.4,"v":3737},{"s":"20","i":214.9,"v":3715},{"s":"20","i":217.5,"v":3706},{"s":"20","i":219.5,"v":3706},{"s":"20","i":221.5,"v":3700},{"s":"20","i":223.5,"v":3664},{"s":"20","i":225.5,"v":3603},{"s":"20","i":227,"v":3543},{"s":"20","i":229,"v":3482},{"s":"20","i":231,"v":3445},{"s":"20","i":232,"v":3409},
{"s":"60","i":-8.1,"v":3678},{"s":"60","i":-4.6,"v":3611},{"s":"60","i":-1.1,"v":3548},{"s":"60","i":2.3,"v":3485},{"s":"60","i":5.8,"v":3429},{"s":"60","i":8.7,"v":3366},{"s":"60","i":10.4,"v":3338},{"s":"60","i":13.3,"v":3324},{"s":"60","i":16.2,"v":3296},{"s":"60","i":19.7,"v":3261},{"s":"60","i":23.1,"v":3219},{"s":"60","i":26.6,"v":3191},{"s":"60","i":29.5,"v":3174},{"s":"60","i":33,"v":3184},{"s":"60","i":35.9,"v":3198},{"s":"60","i":39.3,"v":3219},{"s":"60","i":41.6,"v":3247},{"s":"60","i":45.1,"v":3317},{"s":"60","i":48,"v":3380},{"s":"60","i":50.9,"v":3429},{"s":"60","i":53.2,"v":3527},{"s":"60","i":56.1,"v":3653},{"s":"60","i":59,"v":3758},{"s":"60","i":61.3,"v":3821},{"s":"60","i":64.8,"v":3877},{"s":"60","i":67.7,"v":3912},{"s":"60","i":69.4,"v":3933},{"s":"60","i":72.3,"v":3940},{"s":"60","i":74.5,"v":3944},{"s":"60","i":79.5,"v":3961},{"s":"60","i":82.5,"v":3992},{"s":"60","i":85.5,"v":4027},{"s":"60","i":88.6,"v":4034},{"s":"60","i":90.6,"v":4027},{"s":"60","i":93.6,"v":4013},{"s":"60","i":97.6,"v":3999},{"s":"60","i":99.6,"v":3992},{"s":"60","i":102.7,"v":3950},{"s":"60","i":105.7,"v":3894},{"s":"60","i":108.7,"v":3852},{"s":"60","i":111.2,"v":3803},{"s":"60","i":113.2,"v":3726},{"s":"60","i":115.3,"v":3628},{"s":"60","i":117.3,"v":3544},{"s":"60","i":119.3,"v":3460},{"s":"60","i":121.8,"v":3390},{"s":"60","i":124.8,"v":3355},{"s":"60","i":128.4,"v":3285},{"s":"60","i":130.9,"v":3257},{"s":"60","i":135.9,"v":3257},{"s":"60","i":139,"v":3257},{"s":"60","i":142.4,"v":3278},{"s":"60","i":146,"v":3289},{"s":"60","i":148.5,"v":3327},{"s":"60","i":151,"v":3362},{"s":"60","i":154,"v":3397},{"s":"60","i":157,"v":3432},{"s":"60","i":160,"v":3460},{"s":"60","i":163,"v":3502},{"s":"60","i":165.6,"v":3509},{"s":"60","i":168.6,"v":3505},{"s":"60","i":171,"v":3523},{"s":"60","i":174,"v":3544},{"s":"60","i":178.2,"v":3579},{"s":"60","i":181.2,"v":3614},{"s":"60","i":183.7,"v":3656},{"s":"60","i":186.3,"v":3676},{"s":"60","i":190.3,"v":3749},{"s":"60","i":193.3,"v":3791},{"s":"60","i":196.3,"v":3840},{"s":"60","i":198.4,"v":3860},{"s":"60","i":201.4,"v":3858},{"s":"60","i":204.4,"v":3852},{"s":"60","i":206.4,"v":3852},{"s":"60","i":207.9,"v":3840},{"s":"60","i":210.4,"v":3812},{"s":"60","i":213.4,"v":3803},{"s":"60","i":216.5,"v":3773},{"s":"60","i":219.5,"v":3743},{"s":"60","i":222.5,"v":3718},{"s":"60","i":225.5,"v":3700},{"s":"60","i":228.5,"v":3686},{"s":"60","i":232,"v":3652},
{"s":"120","i":52,"v":3576},{"s":"120","i":54.9,"v":3611},{"s":"120","i":58.4,"v":3646},{"s":"120","i":61.3,"v":3670},{"s":"120","i":63.6,"v":3660},{"s":"120","i":65.9,"v":3656},{"s":"120","i":70.5,"v":3646},{"s":"120","i":73.5,"v":3642},{"s":"120","i":78.5,"v":3621},{"s":"120","i":83.5,"v":3614},{"s":"120","i":89.6,"v":3600},{"s":"120","i":98.6,"v":3600},{"s":"120","i":103.7,"v":3614},{"s":"120","i":108.7,"v":3621},{"s":"120","i":113.7,"v":3614},{"s":"120","i":118.8,"v":3607},{"s":"120","i":123.8,"v":3607},{"s":"120","i":128.8,"v":3600},{"s":"120","i":135.9,"v":3600},{"s":"120","i":139,"v":3611},{"s":"120","i":143,"v":3635},{"s":"120","i":146,"v":3659},{"s":"120","i":149,"v":3677},{"s":"120","i":153,"v":3701},{"s":"120","i":157,"v":3715},{"s":"120","i":160,"v":3726},{"s":"120","i":163,"v":3719},{"s":"120","i":166,"v":3701},{"s":"120","i":169,"v":3684},{"s":"120","i":172,"v":3656},{"s":"120","i":175,"v":3600},{"s":"120","i":178.2,"v":3551},{"s":"120","i":181.2,"v":3516},{"s":"120","i":186.2,"v":3509},{"s":"120","i":190.8,"v":3512},{"s":"120","i":195.8,"v":3536},{"s":"120","i":200.9,"v":3561},{"s":"120","i":205.9,"v":3573},{"s":"120","i":210.9,"v":3585},{"s":"120","i":215.9,"v":3597},{"s":"120","i":220.9,"v":3606},{"s":"120","i":225.9,"v":3601},{"s":"120","i":232,"v":3594}
],
"vma": [
{"s":"거래이평 5","i":-15,"v":180},{"s":"거래이평 5","i":24,"v":200},{"s":"거래이평 5","i":25.2,"v":1434},{"s":"거래이평 5","i":27.2,"v":1434},{"s":"거래이평 5","i":29,"v":1971},{"s":"거래이평 5","i":30.2,"v":1075},{"s":"거래이평 5","i":33.5,"v":1075},{"s":"거래이평 5","i":35,"v":788},{"s":"거래이평 5","i":36.2,"v":358},{"s":"거래이평 5","i":39.5,"v":358},{"s":"거래이평 5","i":40.5,"v":896},{"s":"거래이평 5","i":43.5,"v":896},{"s":"거래이평 5","i":44.5,"v":538},{"s":"거래이평 5","i":50.5,"v":538},{"s":"거래이평 5","i":51.5,"v":3584},{"s":"거래이평 5","i":52.6,"v":9318},{"s":"거래이평 5","i":54,"v":23475},{"s":"거래이평 5","i":56,"v":24192},{"s":"거래이평 5","i":57,"v":21504},{"s":"거래이평 5","i":59,"v":5914},{"s":"거래이평 5","i":60,"v":6093},{"s":"거래이평 5","i":61.8,"v":7956},{"s":"거래이평 5","i":63.3,"v":6451},{"s":"거래이평 5","i":64.8,"v":5555},{"s":"거래이평 5","i":66,"v":3942},{"s":"거래이평 5","i":67.7,"v":2509},{"s":"거래이평 5","i":68.8,"v":1434},{"s":"거래이평 5","i":70.5,"v":1147},{"s":"거래이평 5","i":74,"v":1075},{"s":"거래이평 5","i":78,"v":788},{"s":"거래이평 5","i":83,"v":645},{"s":"거래이평 5","i":84.2,"v":3226},{"s":"거래이평 5","i":85.3,"v":4659},{"s":"거래이평 5","i":88.2,"v":4659},{"s":"거래이평 5","i":89.9,"v":2509},{"s":"거래이평 5","i":91.7,"v":1720},{"s":"거래이평 5","i":93.4,"v":1971},{"s":"거래이평 5","i":94.9,"v":2330},{"s":"거래이평 5","i":98.3,"v":2150},{"s":"거래이평 5","i":99.4,"v":1434},{"s":"거래이평 5","i":101.8,"v":538},{"s":"거래이평 5","i":112,"v":358},{"s":"거래이평 5","i":131.6,"v":358},{"s":"거래이평 5","i":132.7,"v":1434},{"s":"거래이평 5","i":133.9,"v":1792},{"s":"거래이평 5","i":136.8,"v":1971},{"s":"거래이평 5","i":138.5,"v":1075},{"s":"거래이평 5","i":139.7,"v":5376},{"s":"거래이평 5","i":141,"v":14336},{"s":"거래이평 5","i":143.3,"v":15770},{"s":"거래이평 5","i":145,"v":10752},{"s":"거래이평 5","i":146.3,"v":3226},{"s":"거래이평 5","i":147,"v":12544},{"s":"거래이평 5","i":148.4,"v":14336},{"s":"거래이평 5","i":149.5,"v":18637},{"s":"거래이평 5","i":151,"v":19354},{"s":"거래이평 5","i":152.1,"v":20070},{"s":"거래이평 5","i":153.1,"v":21755},{"s":"거래이평 5","i":154.7,"v":19712},{"s":"거래이평 5","i":156.1,"v":19533},{"s":"거래이평 5","i":157.3,"v":10752},{"s":"거래이평 5","i":158.5,"v":5376},{"s":"거래이평 5","i":159.3,"v":3942},{"s":"거래이평 5","i":161,"v":3763},{"s":"거래이평 5","i":162,"v":3405},{"s":"거래이평 5","i":164.7,"v":3046},{"s":"거래이평 5","i":167,"v":1971},{"s":"거래이평 5","i":168.6,"v":2509},{"s":"거래이평 5","i":170.3,"v":2509},{"s":"거래이평 5","i":171.4,"v":2867},{"s":"거래이평 5","i":173,"v":1792},{"s":"거래이평 5","i":174.8,"v":1254},{"s":"거래이평 5","i":176,"v":2150},{"s":"거래이평 5","i":177.7,"v":2509},{"s":"거래이평 5","i":179.4,"v":2437},{"s":"거래이평 5","i":180.5,"v":1971},{"s":"거래이평 5","i":183.9,"v":2150},{"s":"거래이평 5","i":186,"v":2330},{"s":"거래이평 5","i":187.8,"v":2688},{"s":"거래이평 5","i":189.5,"v":2796},{"s":"거래이평 5","i":191.8,"v":2150},{"s":"거래이평 5","i":194,"v":2079},{"s":"거래이평 5","i":198.6,"v":1075},{"s":"거래이평 5","i":201.4,"v":717},{"s":"거래이평 5","i":203.2,"v":609},{"s":"거래이평 5","i":209.8,"v":538},{"s":"거래이평 5","i":211.5,"v":788},{"s":"거래이평 5","i":213.7,"v":1362},{"s":"거래이평 5","i":215.3,"v":1720},{"s":"거래이평 5","i":218.3,"v":1147},{"s":"거래이평 5","i":221,"v":788},{"s":"거래이평 5","i":226.8,"v":538},{"s":"거래이평 5","i":232,"v":430},
{"s":"20","i":-15,"v":110},{"s":"20","i":24,"v":110},{"s":"20","i":26.6,"v":538},{"s":"20","i":36,"v":717},{"s":"20","i":41.8,"v":1004},{"s":"20","i":44.7,"v":1004},{"s":"20","i":45.3,"v":717},{"s":"20","i":50.3,"v":717},{"s":"20","i":52,"v":2509},{"s":"20","i":53.2,"v":5018},{"s":"20","i":54,"v":6451},{"s":"20","i":56.7,"v":6810},{"s":"20","i":58.4,"v":7706},{"s":"20","i":59.6,"v":7956},{"s":"20","i":61.9,"v":8602},{"s":"20","i":64.8,"v":9211},{"s":"20","i":66.5,"v":9390},{"s":"20","i":71,"v":9318},{"s":"20","i":72.6,"v":7168},{"s":"20","i":74,"v":3763},{"s":"20","i":76,"v":3405},{"s":"20","i":77.8,"v":3297},{"s":"20","i":79,"v":2509},{"s":"20","i":80.7,"v":2150},{"s":"20","i":83,"v":1362},{"s":"20","i":84.2,"v":1971},{"s":"20","i":87,"v":1900},{"s":"20","i":94.6,"v":1792},{"s":"20","i":103,"v":1792},{"s":"20","i":105,"v":788},{"s":"20","i":113.6,"v":717},{"s":"20","i":114.5,"v":358},{"s":"20","i":131.6,"v":358},{"s":"20","i":138,"v":788},{"s":"20","i":140,"v":2867},{"s":"20","i":141,"v":3763},{"s":"20","i":143.3,"v":4372},{"s":"20","i":146,"v":4838},{"s":"20","i":147,"v":7526},{"s":"20","i":148,"v":8243},{"s":"20","i":150,"v":8781},{"s":"20","i":151.5,"v":9856},{"s":"20","i":152.4,"v":12544},{"s":"20","i":153.5,"v":13440},{"s":"20","i":156.4,"v":14049},{"s":"20","i":157.9,"v":14515},{"s":"20","i":159.9,"v":12186},{"s":"20","i":161,"v":11469},{"s":"20","i":166,"v":11110},{"s":"20","i":167,"v":8960},{"s":"20","i":168.3,"v":8422},{"s":"20","i":169.5,"v":7526},{"s":"20","i":170.3,"v":7168},{"s":"20","i":171.4,"v":6989},{"s":"20","i":172,"v":5018},{"s":"20","i":173.7,"v":3226},{"s":"20","i":174.8,"v":2509},{"s":"20","i":176,"v":2437},{"s":"20","i":177.7,"v":2150},{"s":"20","i":180.5,"v":1971},{"s":"20","i":186,"v":2150},{"s":"20","i":192,"v":2150},{"s":"20","i":197.6,"v":1792},{"s":"20","i":203.2,"v":1362},{"s":"20","i":208.8,"v":968},{"s":"20","i":220,"v":896},{"s":"20","i":225.8,"v":717},{"s":"20","i":232,"v":717},
{"s":"60","i":-8,"v":180},{"s":"60","i":24,"v":200},{"s":"60","i":47.4,"v":466},{"s":"60","i":50.9,"v":538},{"s":"60","i":52.3,"v":1254},{"s":"60","i":53.8,"v":2330},{"s":"60","i":56.1,"v":2509},{"s":"60","i":59,"v":2867},{"s":"60","i":61.9,"v":3226},{"s":"60","i":64.8,"v":3512},{"s":"60","i":74.5,"v":3584},{"s":"60","i":83,"v":3656},{"s":"60","i":84.2,"v":3942},{"s":"60","i":92,"v":3871},{"s":"60","i":93,"v":4014},{"s":"60","i":108,"v":4014},{"s":"60","i":111,"v":3763},{"s":"60","i":113.9,"v":2079},{"s":"60","i":117.7,"v":1864},{"s":"60","i":120,"v":1613},{"s":"60","i":121.7,"v":1254},{"s":"60","i":125.8,"v":896},{"s":"60","i":138,"v":896},{"s":"60","i":141,"v":1075},{"s":"60","i":143.3,"v":2150},{"s":"60","i":146,"v":2150},{"s":"60","i":147,"v":2867},{"s":"60","i":152.4,"v":4480},{"s":"60","i":156,"v":4946},{"s":"60","i":159.3,"v":5304},{"s":"60","i":162,"v":5555},{"s":"60","i":167.5,"v":5555},{"s":"60","i":176,"v":5734},{"s":"60","i":180,"v":6021},{"s":"60","i":184.4,"v":6093},{"s":"60","i":187.3,"v":6272},{"s":"60","i":198.6,"v":6272},{"s":"60","i":201.4,"v":5089},{"s":"60","i":205.9,"v":4838},{"s":"60","i":207.3,"v":4122},{"s":"60","i":209.8,"v":3405},{"s":"60","i":211.5,"v":3226},{"s":"60","i":213.2,"v":1971},{"s":"60","i":215.4,"v":1864},{"s":"60","i":218.3,"v":1505},{"s":"60","i":228,"v":1434},{"s":"60","i":232,"v":1147},
{"s":"120","i":51,"v":717},{"s":"120","i":53,"v":1254},{"s":"120","i":59,"v":1613},{"s":"120","i":64.8,"v":1900},{"s":"120","i":74.5,"v":1864},{"s":"120","i":83,"v":1900},{"s":"120","i":84,"v":2150},{"s":"120","i":138.5,"v":2150},{"s":"120","i":146,"v":2939},{"s":"120","i":152.4,"v":4301},{"s":"120","i":162,"v":4659},{"s":"120","i":167.5,"v":4838},{"s":"120","i":171.4,"v":4910},{"s":"120","i":173.7,"v":4372},{"s":"120","i":176,"v":3871},{"s":"120","i":182.8,"v":3656},{"s":"120","i":198.6,"v":3584},{"s":"120","i":203.2,"v":3405},{"s":"120","i":232,"v":3405}
]
},
"vconcat": [
{
  "width": 1655, "height": 1150,
  "layer": [
    {"data": {"name": "c"}, "mark": {"type": "rule", "strokeWidth": 1},
     "encoding": {
       "x": {"field": "i", "type": "quantitative", "scale": {"domain": [-15.41, 234.59], "nice": false, "zero": false, "padding": 0},
             "axis": {"values": [-15.4, -0.3, 21.7, 43.7, 63.7, 81.7, 102.7, 123.7, 144.7, 164.7, 185.7, 207.7, 227.7], "labels": false, "ticks": false, "tickSize": 0, "domain": false, "grid": true, "title": null}},
       "y": {"field": "l", "type": "quantitative", "scale": {"domain": [2493, 6706], "nice": false, "zero": false, "padding": 0},
             "axis": {"orient": "right", "values": [3000, 3500, 4000, 4500, 5000, 5500, 6000, 6500], "labelExpr": "format(datum.value, ',')", "tickSize": 7, "labelPadding": 8, "grid": true, "title": null}},
       "y2": {"field": "h"},
       "color": {"condition": {"test": "datum.c >= datum.o", "value": "#e00000"}, "value": "#0000c8"}
     }},
    {"data": {"name": "c"}, "mark": {"type": "bar", "width": 5},
     "encoding": {
       "x": {"field": "i", "type": "quantitative"},
       "y": {"field": "o", "type": "quantitative"},
       "y2": {"field": "c"},
       "color": {"condition": {"test": "datum.c >= datum.o", "value": "#e00000"}, "value": "#0000c8"}
     }},
    {"data": {"name": "ma"}, "mark": {"type": "line", "strokeWidth": 1.2},
     "encoding": {
       "x": {"field": "i", "type": "quantitative"},
       "y": {"field": "v", "type": "quantitative"},
       "color": {"field": "s", "type": "nominal",
         "scale": {"domain": ["가격차트", "가격이평 5", "20", "60", "120"], "range": ["#000000", "#66b22a", "#2d9be6", "#2b2bd4", "#8e3b67"]},
         "legend": {"orient": "none", "legendX": 18, "legendY": 4, "direction": "horizontal", "columns": 5, "title": null, "padding": 0,
           "symbolType": "M-0.3,-0.9L0.3,-0.9L0.3,0.9L-0.3,0.9Z", "symbolSize": 100, "symbolStrokeWidth": 0,
           "labelFont": "DejaVu Sans Mono, Noto Sans CJK KR", "labelFontSize": 17, "labelOffset": 1.5, "columnPadding": 1, "labelLimit": 400,
           "encode": {
             "symbols": {"update": {
               "fill": {"signal": "datum.value === '가격차트' ? '#000000' : datum.value === '가격이평 5' ? '#66b22a' : datum.value === '20' ? '#2d9be6' : datum.value === '60' ? '#2b2bd4' : '#8e3b67'"},
               "stroke": {"value": "transparent"},
               "opacity": {"value": 1}
             }},
             "labels": {"update": {
               "fill": {"signal": "datum.value === '가격차트' ? '#000000' : datum.value === '가격이평 5' ? '#5aa51e' : datum.value === '20' ? '#2d9be6' : datum.value === '60' ? '#2b2bd4' : '#8e3b67'"}
             }}
           }}
       }
     }},
    {"data": {"values": [{}]}, "mark": {"type": "rect", "color": "#c8c8c8", "xOffset": 2, "x2Offset": 16, "yOffset": 2, "y2Offset": 8},
     "encoding": {"x": {"datum": -15.41}, "x2": {"datum": -15.41}, "y": {"datum": 6706}, "y2": {"datum": 6706}}},
    {"data": {"values": [{"i": 54, "p": 6530, "t": "←─"}]},
     "mark": {"type": "text", "align": "left", "baseline": "middle", "dx": 3, "dy": -12, "font": "Noto Sans CJK KR", "fontSize": 15, "color": "#e00000"},
     "encoding": {"x": {"field": "i", "type": "quantitative"}, "y": {"field": "p", "type": "quantitative"}, "text": {"field": "t"}}},
    {"data": {"values": [{"i": 54, "p": 6530, "t": "최고:6,530(2022/01/17, -52.60%)"}]},
     "mark": {"type": "text", "align": "left", "baseline": "middle", "dx": 33, "dy": -12, "font": "DejaVu Sans Mono, Noto Sans CJK KR", "fontSize": 15, "color": "#e00000"},
     "encoding": {"x": {"field": "i", "type": "quantitative"}, "y": {"field": "p", "type": "quantitative"}, "text": {"field": "t"}}},
    {"data": {"values": [{"i": 22, "p": 2580, "t": "←─"}]},
     "mark": {"type": "text", "align": "left", "baseline": "middle", "dx": 1, "dy": 7, "font": "Noto Sans CJK KR", "fontSize": 15, "color": "#2323b4"},
     "encoding": {"x": {"field": "i", "type": "quantitative"}, "y": {"field": "p", "type": "quantitative"}, "text": {"field": "t"}}},
    {"data": {"values": [{"i": 22, "p": 2580, "t": "최저:2,580(2021/12/01, +19.96%)"}]},
     "mark": {"type": "text", "align": "left", "baseline": "middle", "dx": 32, "dy": 7, "font": "DejaVu Sans Mono, Noto Sans CJK KR", "fontSize": 15, "color": "#2323b4"},
     "encoding": {"x": {"field": "i", "type": "quantitative"}, "y": {"field": "p", "type": "quantitative"}, "text": {"field": "t"}}},
    {"data": {"values": [{"i": 42, "p": 4179, "t": "배당락:0%"}]},
     "mark": {"type": "text", "align": "right", "baseline": "middle", "dx": -23, "font": "DejaVu Sans Mono, Noto Sans CJK KR", "fontSize": 15, "color": "#2a7a2a"},
     "encoding": {"x": {"field": "i", "type": "quantitative"}, "y": {"field": "p", "type": "quantitative"}, "text": {"field": "t"}}},
    {"data": {"values": [{}]}, "mark": {"type": "rule", "color": "#2a7a2a", "strokeWidth": 1},
     "encoding": {"x": {"datum": 39.6}, "x2": {"datum": 42}, "y": {"datum": 4179}}},
    {"data": {"values": [{}]}, "mark": {"type": "rule", "color": "#2a7a2a", "strokeWidth": 1},
     "encoding": {"x": {"datum": 42}, "y": {"datum": 4179}, "y2": {"datum": 4140}}},
    {"data": {"values": [{}]}, "mark": {"type": "point", "shape": "triangle-down", "filled": true, "size": 25, "color": "#2a7a2a", "opacity": 1},
     "encoding": {"x": {"datum": 42}, "y": {"datum": 4133}}},
    {"data": {"values": [{}]}, "mark": {"type": "point", "shape": "square", "filled": true, "size": 130, "color": "#d8d8d8", "opacity": 1, "xOffset": -24.5, "yOffset": 7.5},
     "encoding": {"x": {"datum": 234.59}, "y": {"datum": 6706}}},
    {"data": {"values": [{}]}, "mark": {"type": "point", "shape": "square", "filled": true, "size": 20, "color": "#a0a0a0", "opacity": 1, "xOffset": -24.5, "yOffset": 8},
     "encoding": {"x": {"datum": 234.59}, "y": {"datum": 6706}}},
    {"data": {"values": [{}]}, "mark": {"type": "point", "shape": "square", "filled": true, "size": 130, "color": "#c8c8c8", "opacity": 1, "xOffset": -9, "yOffset": 7.5},
     "encoding": {"x": {"datum": 234.59}, "y": {"datum": 6706}}},
    {"data": {"values": [{}]}, "mark": {"type": "text", "text": "×", "align": "center", "baseline": "middle", "fontSize": 12, "color": "white", "xOffset": -9, "yOffset": 7},
     "encoding": {"x": {"datum": 234.59}, "y": {"datum": 6706}}},
    {"data": {"values": [{}]}, "mark": {"type": "rect", "color": "#0000ff", "xOffset": 30, "x2Offset": 104, "yOffset": -13, "y2Offset": 28},
     "encoding": {"x": {"datum": 232}, "x2": {"datum": 232}, "y": {"datum": 3095}, "y2": {"datum": 3095}}},
    {"data": {"values": [{}]}, "mark": {"type": "text", "text": "3,095", "align": "left", "baseline": "middle", "dx": 32, "dy": -2, "color": "white", "font": "DejaVu Sans Mono", "fontSize": 15},
     "encoding": {"x": {"datum": 232}, "y": {"datum": 3095}}},
    {"data": {"values": [{}]}, "mark": {"type": "text", "text": "(-3.43%)", "align": "left", "baseline": "middle", "dx": 32, "dy": 17, "color": "white", "font": "DejaVu Sans Mono", "fontSize": 15},
     "encoding": {"x": {"datum": 232}, "y": {"datum": 3095}}}
  ]
},
{
  "width": 1655, "height": 576,
  "layer": [
    {"data": {"name": "c"}, "mark": {"type": "bar", "width": 5},
     "encoding": {
       "x": {"field": "i", "type": "quantitative", "scale": {"domain": [-15.41, 234.59], "nice": false, "zero": false, "padding": 0},
             "axis": {"values": [-15.4, -0.3, 21.7, 43.7, 63.7, 81.7, 102.7, 123.7, 144.7, 164.7, 185.7, 207.7, 227.7], "ticks": false, "tickSize": 0, "domain": false, "grid": true, "title": null,
                      "labelExpr": "datum.value < -10 ? '10' : datum.value < 10 ? '11' : datum.value < 30 ? '12' : datum.value < 50 ? '2022/01' : datum.value < 70 ? '02' : datum.value < 90 ? '03' : datum.value < 110 ? '04' : datum.value < 130 ? '05' : datum.value < 150 ? '06' : datum.value < 175 ? '07' : datum.value < 195 ? '08' : datum.value < 215 ? '09' : '10'",
                      "labelAlign": "left", "labelOffset": 2, "labelPadding": 4, "labelFlush": false, "labelOverlap": false, "labelBound": false,
                      "labelFontWeight": {"condition": {"test": "datum.value > 40 && datum.value < 50", "value": "bold"}, "value": "normal"},
                      "labelColor": {"condition": {"test": "datum.value > 40 && datum.value < 50", "value": "#000000"}, "value": "#1e1e1e"}}},
       "y": {"field": "v", "type": "quantitative", "scale": {"domain": [-196, 53666], "nice": false, "zero": false, "padding": 0},
             "axis": {"orient": "right", "values": [0, 5000, 10000, 15000, 20000, 25000, 30000, 35000, 40000, 45000, 50000], "labelExpr": "format(datum.value, ',') + 'K'", "tickSize": 7, "labelPadding": 8, "grid": true, "title": null,
                      "labelOffset": {"condition": {"test": "datum.value == 0", "value": -8}, "value": 0}}},
       "y2": {"datum": 0},
       "color": {"condition": {"test": "datum.d == 'u'", "value": "#e00000"}, "value": "#0000c8"}
     }},
    {"data": {"name": "vma"}, "mark": {"type": "line", "strokeWidth": 1.2},
     "encoding": {
       "x": {"field": "i", "type": "quantitative"},
       "y": {"field": "v", "type": "quantitative"},
       "color": {"field": "s", "type": "nominal",
         "scale": {"domain": ["거래량", "거래이평 5", "20", "60", "120"], "range": ["#e00000", "#66b22a", "#2d9be6", "#2b2bd4", "#8e3b67"]},
         "legend": {"orient": "none", "legendX": 18, "legendY": 7, "direction": "horizontal", "columns": 5, "title": null, "padding": 0,
           "symbolType": "M-0.3,-0.9L0.3,-0.9L0.3,0.9L-0.3,0.9Z", "symbolSize": 100, "symbolStrokeWidth": 0,
           "labelFont": "DejaVu Sans Mono, Noto Sans CJK KR", "labelFontSize": 17, "labelOffset": 1.5, "columnPadding": 1, "labelLimit": 400,
           "encode": {
             "symbols": {"update": {
               "fill": {"signal": "datum.value === '거래량' ? '#e00000' : datum.value === '거래이평 5' ? '#66b22a' : datum.value === '20' ? '#2d9be6' : datum.value === '60' ? '#2b2bd4' : '#8e3b67'"},
               "stroke": {"value": "transparent"},
               "opacity": {"value": 1}
             }},
             "labels": {"update": {
               "fill": {"signal": "datum.value === '거래량' ? '#e00000' : datum.value === '거래이평 5' ? '#5aa51e' : datum.value === '20' ? '#2d9be6' : datum.value === '60' ? '#2b2bd4' : '#8e3b67'"}
             }}
           }}
       }
     }},
    {"data": {"values": [{}]}, "mark": {"type": "rect", "color": "#c8c8c8", "xOffset": 2, "x2Offset": 16, "yOffset": 5, "y2Offset": 12},
     "encoding": {"x": {"datum": -15.41}, "x2": {"datum": -15.41}, "y": {"datum": 53666}, "y2": {"datum": 53666}}},
    {"data": {"values": [{}]}, "mark": {"type": "point", "shape": "square", "filled": true, "size": 130, "color": "#d8d8d8", "opacity": 1, "xOffset": -24.5, "yOffset": 10.5},
     "encoding": {"x": {"datum": 234.59}, "y": {"datum": 53666}}},
    {"data": {"values": [{}]}, "mark": {"type": "point", "shape": "square", "filled": true, "size": 20, "color": "#a0a0a0", "opacity": 1, "xOffset": -24.5, "yOffset": 11},
     "encoding": {"x": {"datum": 234.59}, "y": {"datum": 53666}}},
    {"data": {"values": [{}]}, "mark": {"type": "point", "shape": "square", "filled": true, "size": 130, "color": "#c8c8c8", "opacity": 1, "xOffset": -9, "yOffset": 10.5},
     "encoding": {"x": {"datum": 234.59}, "y": {"datum": 53666}}},
    {"data": {"values": [{}]}, "mark": {"type": "text", "text": "×", "align": "center", "baseline": "middle", "fontSize": 12, "color": "white", "xOffset": -9, "yOffset": 10},
     "encoding": {"x": {"datum": 234.59}, "y": {"datum": 53666}}}
  ]
}
]
}
